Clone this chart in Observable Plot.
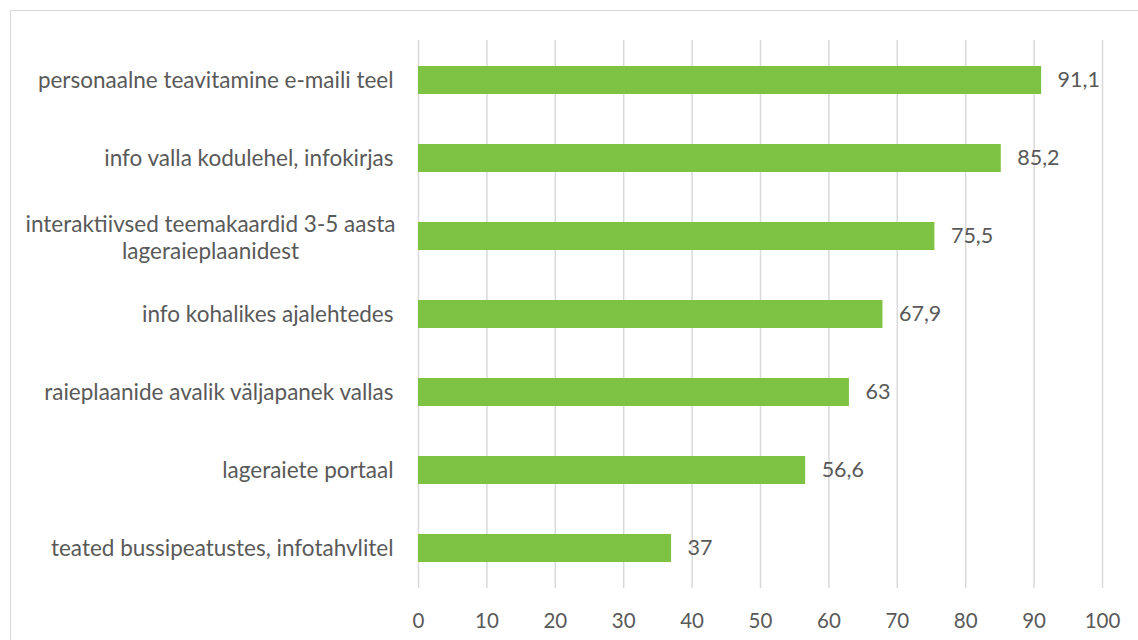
<!DOCTYPE html>
<html><head><meta charset="utf-8">
<script src="https://cdn.jsdelivr.net/npm/d3@7"></script>
<script src="https://cdn.jsdelivr.net/npm/@observablehq/plot@0.6"></script>
<style>
html,body{margin:0;padding:0;background:#fff;overflow:hidden;}
#wrap{position:relative;width:1138px;height:640px;}
#border{position:absolute;left:10px;top:10px;width:1200px;height:700px;border:1.5px solid #d9d9d9;box-sizing:border-box;}
#chart{position:absolute;left:0;top:0;}
</style></head>
<body><div id="wrap"><div id="border"></div><div id="chart"></div></div>
<script>
const categories = [
  "personaalne teavitamine e-maili teel",
  "info valla kodulehel, infokirjas",
  "interaktiivsed teemakaardid 3-5 aasta\nlageraieplaanidest",
  "info kohalikes ajalehtedes",
  "raieplaanide avalik väljapanek vallas",
  "lageraiete portaal",
  "teated bussipeatustes, infotahvlitel"
];
const values = [91.1, 85.2, 75.5, 67.9, 63, 56.6, 37];
const xTicks = [0,10,20,30,40,50,60,70,80,90,100];

const data = categories.map((c,i)=>({cat:c, v:values[i]}));
const multi = categories.filter(c=>c.includes("\n"));
const single = categories.filter(c=>!c.includes("\n"));
const fmt = d => String(d).replace(".", ",");
const font = "Lato, 'Open Sans', sans-serif";
const col = "#595959";

const chart = Plot.plot({
  width: 1138, height: 640,
  marginLeft: 418, marginRight: 36, marginTop: 40, marginBottom: 52,
  style: {fontFamily: font, background: "transparent"},
  x: {domain: [0,100], ticks: xTicks},
  y: {domain: categories, padding: 0.64, paddingOuter: 0.32},
  marks: [
    Plot.gridX(xTicks, {stroke: "#d9d9d9", strokeOpacity: 1, strokeWidth: 1.5}),
    Plot.barX(data, {x: "v", y: "cat", fill: "#7dc242"}),
    Plot.text(data, {x: "v", y: "cat", text: d=>fmt(d.v), textAnchor: "start", dx: 16, fill: col, fontSize: 21.5}),
    Plot.axisX({ticks: xTicks, tickSize: 0, tickPadding: 25, fontSize: 20.5, fill: col, label: null, tickFormat: d=>String(d)}),
    Plot.axisY({ticks: single, tickSize: 0, tickPadding: 25, fontSize: 22.5, fill: col, label: null}),
    Plot.axisY({ticks: multi, tickSize: 0, tickPadding: 0, dx: -208, textAnchor: "middle", fontSize: 22.5, lineHeight: 1.22, fill: col, label: null})
  ]
});
document.getElementById("chart").appendChild(chart);
</script></body></html>
